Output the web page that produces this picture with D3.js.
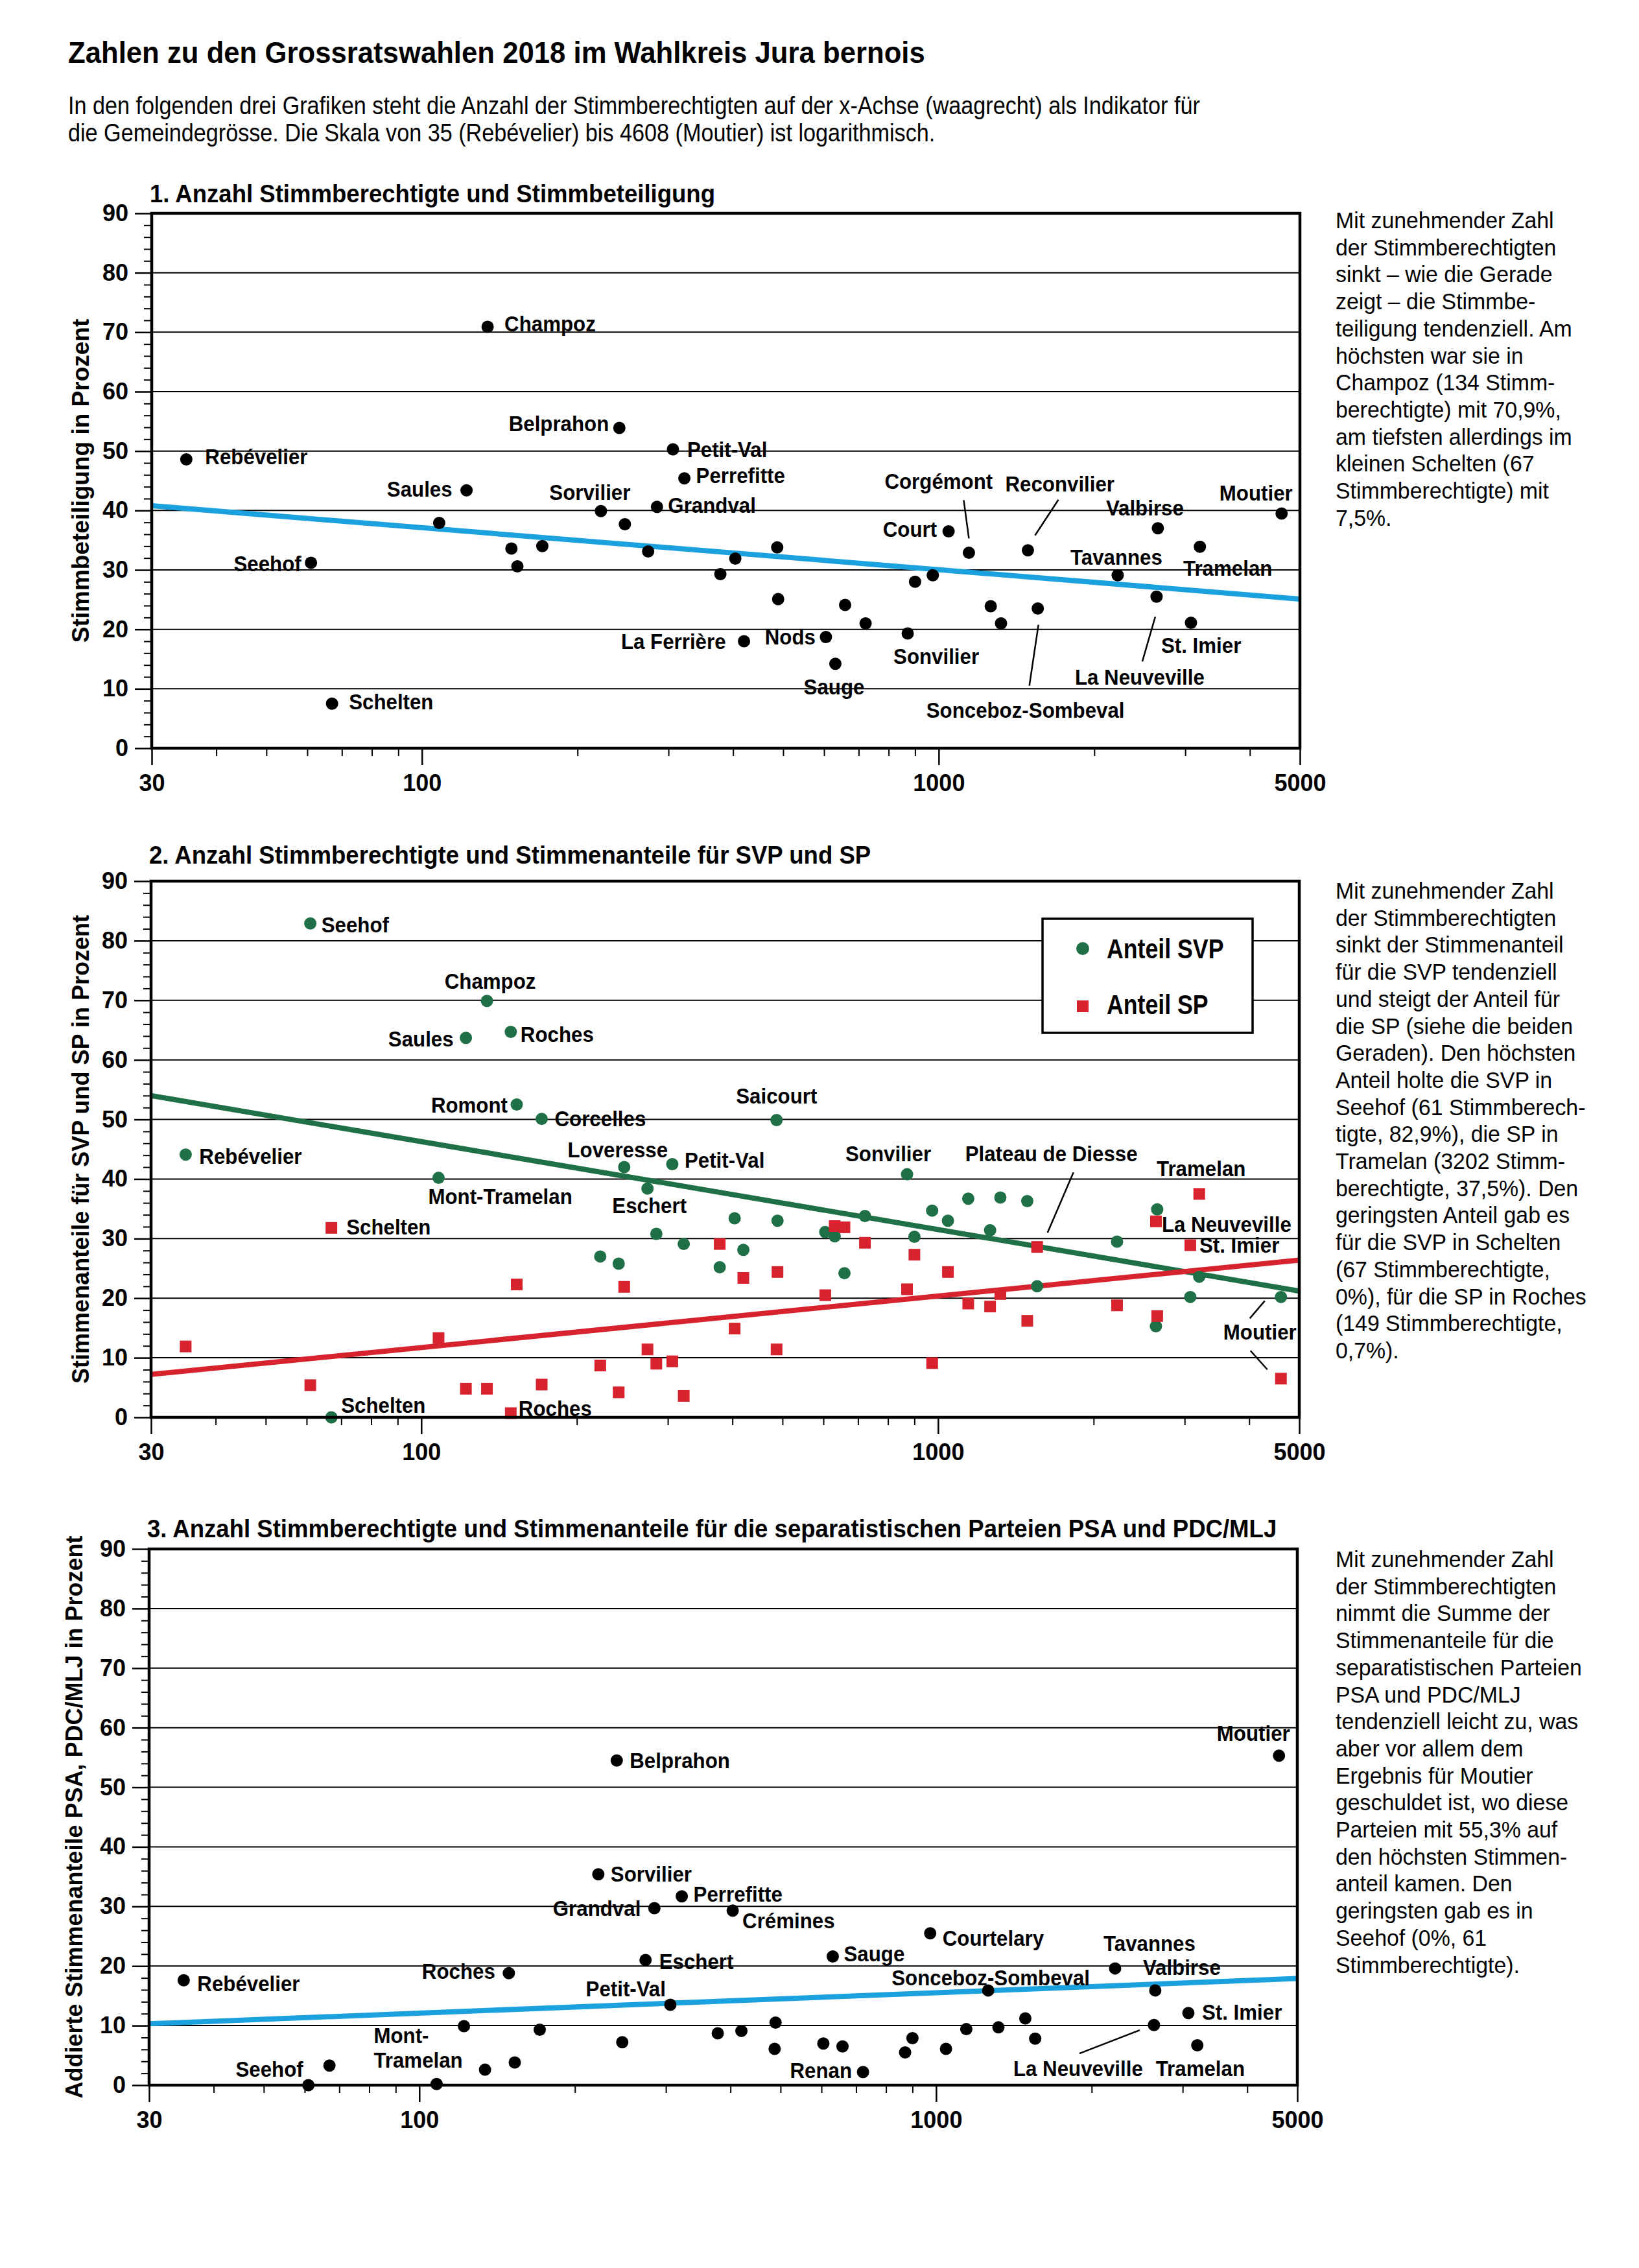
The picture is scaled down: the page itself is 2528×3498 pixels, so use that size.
<!DOCTYPE html>
<html>
<head>
<meta charset="utf-8">
<script src="https://d3js.org/d3.v7.min.js"></script>
<style>
  body { margin: 0; background: #fff; }
</style>
</head>
<body>
<svg id="chart" width="2528" height="3498"></svg>
<script>
// Gemeinden im Wahlkreis Jura bernois, sortiert nach Stimmberechtigten
const names = ["Rebévelier", "Seehof", "Schelten", "Mont-Tramelan", "Saules", "Champoz", "Roches", "Romont",
  "Corcelles", "Sorvilier", "Belprahon", "Loveresse", "Eschert", "Grandval", "Petit-Val", "Perrefitte",
  "Cormoret", "Crémines", "La Ferrière", "Saicourt", "Cortébert", "Nods", "Sauge", "Villeret", "Renan",
  "Sonvilier", "Orvin", "Courtelary", "Court", "Corgémont", "Sonceboz-Sombeval", "Péry-La Heutte",
  "Reconvilier", "Plateau de Diesse", "Tavannes", "La Neuveville", "Valbirse", "St. Imier", "Tramelan", "Moutier"];
const voters = [35, 61, 67, 108, 122, 134, 149, 153, 171, 222, 241, 247, 274, 285, 306, 322,
  378, 404, 420, 487, 489, 605, 631, 659, 722, 871, 900, 974, 1045, 1144, 1261, 1320,
  1488, 1555, 2220, 2640, 2655, 3077, 3202, 4608];
const turnout = [48.6, 31.2, 7.5, 37.9, 43.4, 70.9, 33.6, 30.6, 34.0, 39.9, 53.9, 37.7, 33.1, 40.6, 50.3, 45.4,
  29.3, 31.9, 18.0, 33.8, 25.1, 18.7, 14.2, 24.1, 21.0, 19.3, 28.0, 29.1, 36.5, 32.9, 23.9, 21.0,
  33.3, 23.5, 29.1, 25.5, 37.0, 21.1, 33.9, 39.5];
const svp = [44.1, 82.9, 0, 40.2, 63.7, 69.9, 64.7, 52.5, 50.1, 27.0, 25.8, 42.0, 38.4, 30.8, 42.5, 29.1,
  25.2, 33.4, 28.1, 49.9, 33.0, 31.1, 30.4, 24.2, 33.8, 40.8, 30.3, 34.7, 33.0, 36.7, 31.4, 36.9,
  36.3, 22.0, 29.5, 15.3, 34.9, 20.2, 23.6, 20.2];
const sp = [11.9, 5.4, 31.8, 13.3, 4.8, 4.8, 0.7, 22.3, 5.5, 8.7, 4.2, 21.9, 11.4, 9.0, 9.4, 3.6,
  29.1, 14.9, 23.4, 11.4, 24.4, 20.5, 32.1, 31.9, 29.3, 21.5, 27.3, 9.1, 24.4, 19.1, 18.6, 20.7,
  16.2, 28.6, 18.8, 32.9, 17.0, 28.9, 37.5, 6.5];
const separatist = [17.6, 0, 3.3, 0.2, 9.9, 2.6, 18.8, 3.8, 9.3, 35.4, 54.5, 7.2, 21.0, 29.7, 13.5, 31.7,
  8.7, 29.3, 9.1, 6.1, 10.5, 7.0, 21.6, 6.5, 2.2, 5.5, 7.9, 25.5, 6.1, 9.4, 15.9, 9.7,
  11.2, 7.8, 19.6, 10.1, 15.9, 12.1, 6.7, 55.3];

const trendX = [30, 5000];
const trendTurnout = [40.8, 25.1];
const trendSVP = [54.0, 21.2];
const trendSP = [7.2, 26.4];
const trendSep = [10.3, 17.9];

const xTicks = [30, 40, 50, 60, 70, 80, 90, 100, 200, 300, 400, 500, 600, 700, 800, 900, 1000, 2000, 3000, 4000, 5000];
const xTickLabels = [30, 100, 1000, 5000];
const yTicks = [0, 10, 20, 30, 40, 50, 60, 70, 80, 90];

const SANS = '"Liberation Sans", Arial, sans-serif';
const BLUE = "#1ba1de", GREEN = "#1f7047", RED = "#d6232d";

const svg = d3.select("#chart");
svg.append("rect").attr("width", 2528).attr("height", 3498).attr("fill", "#fff");

// schmal gesetzter Text (Ersatz fuer eine Condensed-Schrift)
function ctext(parent, x, y, txt, size, bold, sx, anchor) {
  return parent.append("text")
    .attr("transform", "translate(" + x + "," + y + ") scale(" + sx + ",1)")
    .attr("text-anchor", anchor || "start")
    .attr("font-family", SANS)
    .attr("font-weight", bold ? "bold" : "normal")
    .attr("font-size", size)
    .text(txt);
}

ctext(svg, 105, 97, "Zahlen zu den Grossratswahlen 2018 im Wahlkreis Jura bernois", 46, true, 0.95);

const intro = ["In den folgenden drei Grafiken steht die Anzahl der Stimmberechtigten auf der x-Achse (waagrecht) als Indikator für",
  "die Gemeindegrösse. Die Skala von 35 (Rebévelier) bis 4608 (Moutier) ist logarithmisch."];
intro.forEach((d, i) => ctext(svg, 105, 176 + i * 42, d, 38, false, 0.9));

// label: [Gemeinde, Text, dx, dy, anchor, leader?]
const panels = [
  {
    left: 234, right: 2005, top: 329, bottom: 1154, titleY: 312,
    title: "1. Anzahl Stimmberechtigte und Stimmbeteiligung",
    yTitle: "Stimmbeteiligung in Prozent", yTitleX: 137, yTitleSize: 37,
    noteY: 352,
    note: ["Mit zunehmender Zahl", "der Stimmberechtigten", "sinkt – wie die Gerade", "zeigt – die Stimmbe-",
      "teiligung tendenziell. Am", "höchsten war sie in", "Champoz (134 Stimm-", "berechtigte) mit 70,9%,",
      "am tiefsten allerdings im", "kleinen Schelten (67", "Stimmberechtigte) mit", "7,5%."],
    trends: [{ values: trendTurnout, color: BLUE }],
    series: [{
      values: turnout, shape: "circle", color: "#000",
      labels: [
        ["Champoz", "Champoz", 26, -5, "start"], ["Belprahon", "Belprahon", -16, -7, "end"],
        ["Petit-Val", "Petit-Val", 22, 0, "start"], ["Perrefitte", "Perrefitte", 18, -5, "start"],
        ["Rebévelier", "Rebévelier", 29, -5, "start"], ["Saules", "Saules", -22, -2, "end"],
        ["Sorvilier", "Sorvilier", -17, -29, "middle"], ["Grandval", "Grandval", 17, -3, "start"],
        ["Seehof", "Seehof", -15, 1, "end"], ["La Ferrière", "La Ferrière", -28, 0, "end"],
        ["Nods", "Nods", -16, -1, "end"], ["Sauge", "Sauge", -2, 35, "middle"],
        ["Schelten", "Schelten", 26, -3, "start"], ["Sonvilier", "Sonvilier", -22, 35, "start"],
        ["Court", "Court", -18, -3, "end"],
        ["Corgémont", "Corgémont", -130, -110, "start", [-8, -81, 0, -22]],
        ["Reconvilier", "Reconvilier", -35, -103, "start", [47, -78, 11, -23]],
        ["Valbirse", "Valbirse", -20, -32, "middle"], ["Moutier", "Moutier", 17, -32, "end"],
        ["Tavannes", "Tavannes", -2, -28, "middle"], ["Tramelan", "Tramelan", 43, 33, "middle"],
        ["St. Imier", "St. Imier", -46, 34, "start"],
        ["La Neuveville", "La Neuveville", -126, 124, "start", [-22, 100, -2, 31]],
        ["Plateau de Diesse", "Sonceboz-Sombeval", -172, 156, "start", [-13, 119, 1, 25]]
      ]
    }]
  },
  {
    left: 233, right: 2004, top: 1359, bottom: 2186, titleY: 1332,
    title: "2. Anzahl Stimmberechtigte und Stimmenanteile für SVP und SP",
    yTitle: "Stimmenanteile für SVP und SP in Prozent", yTitleX: 137, yTitleSize: 36,
    noteY: 1386,
    note: ["Mit zunehmender Zahl", "der Stimmberechtigten", "sinkt der Stimmenanteil", "für die SVP tendenziell",
      "und steigt der Anteil für", "die SP (siehe die beiden", "Geraden). Den höchsten", "Anteil holte die SVP in",
      "Seehof (61 Stimmberech-", "tigte, 82,9%), die SP in", "Tramelan (3202 Stimm-", "berechtigte, 37,5%). Den",
      "geringsten Anteil gab es", "für die SVP in Schelten", "(67 Stimmberechtigte,", "0%), für die SP in Roches",
      "(149 Stimmberechtigte,", "0,7%)."],
    trends: [{ values: trendSVP, color: GREEN }, { values: trendSP, color: RED }],
    legend: true,
    series: [{
      values: svp, shape: "circle", color: GREEN,
      labels: [
        ["Seehof", "Seehof", 17, 2, "start"], ["Champoz", "Champoz", 5, -31, "middle"],
        ["Saules", "Saules", -19, 1, "end"], ["Roches", "Roches", 15, 4, "start"],
        ["Romont", "Romont", -14, 0, "end"], ["Corcelles", "Corcelles", 20, -1, "start"],
        ["Saicourt", "Saicourt", 0, -37, "middle"], ["Rebévelier", "Rebévelier", 21, 2, "start"],
        ["Loveresse", "Loveresse", -10, -27, "middle"], ["Petit-Val", "Petit-Val", 19, -6, "start"],
        ["Mont-Tramelan", "Mont-Tramelan", -16, 28, "start"], ["Eschert", "Eschert", 3, 26, "middle"],
        ["Schelten", "Schelten", 15, -19, "start"], ["Sonvilier", "Sonvilier", -29, -32, "middle"],
        ["Moutier", "Moutier", 24, 54, "end", [-25, 6, -48, 33]]
      ]
    }, {
      values: sp, shape: "square", color: RED,
      labels: [
        ["Schelten", "Schelten", 23, -2, "start"], ["Roches", "Roches", 12, -8, "start"],
        ["Plateau de Diesse", "Plateau de Diesse", -111, -144, "start", [56, -115, 16, -22]],
        ["Tramelan", "Tramelan", 3, -39, "middle"], ["La Neuveville", "La Neuveville", 9, 4, "start"],
        ["St. Imier", "St. Imier", 14, 0, "start"],
        ["Moutier", "", 0, 0, "start", [-47, -43, -21, -14]]
      ]
    }]
  },
  {
    left: 230, right: 2001, top: 2389, bottom: 3216, titleY: 2371,
    title: "3. Anzahl Stimmberechtigte und Stimmenanteile für die separatistischen Parteien PSA und PDC/MLJ",
    yTitle: "Addierte Stimmenanteile PSA, PDC/MLJ in Prozent", yTitleX: 127, yTitleSize: 36,
    noteY: 2417,
    note: ["Mit zunehmender Zahl", "der Stimmberechtigten", "nimmt die Summe der", "Stimmenanteile für die",
      "separatistischen Parteien", "PSA und PDC/MLJ", "tendenziell leicht zu, was", "aber vor allem dem",
      "Ergebnis für Moutier", "geschuldet ist, wo diese", "Parteien mit 55,3% auf", "den höchsten Stimmen-",
      "anteil kamen. Den", "geringsten gab es in", "Seehof (0%, 61", "Stimmberechtigte)."],
    trends: [{ values: trendSep, color: BLUE }],
    series: [{
      values: separatist, shape: "circle", color: "#000",
      labels: [
        ["Belprahon", "Belprahon", 20, 0, "start"], ["Sorvilier", "Sorvilier", 19, -1, "start"],
        ["Perrefitte", "Perrefitte", 18, -4, "start"], ["Grandval", "Grandval", -21, 0, "end"],
        ["Crémines", "Crémines", 15, 15, "start"], ["Eschert", "Eschert", 21, 2, "start"],
        ["Roches", "Roches", -21, -3, "end"], ["Rebévelier", "Rebévelier", 21, 5, "start"],
        ["Petit-Val", "Petit-Val", -7, -25, "end"],
        ["Mont-Tramelan", "Mont-", -97, -75, "start"], ["Mont-Tramelan", "Tramelan", -97, -37, "start"],
        ["Seehof", "Seehof", -8, -25, "end"], ["Renan", "Renan", -17, -3, "end"],
        ["Moutier", "Moutier", 17, -35, "end"], ["Courtelary", "Courtelary", 19, 7, "start"],
        ["Sauge", "Sauge", 17, -5, "start"], ["Tavannes", "Tavannes", 53, -39, "middle"],
        ["Valbirse", "Valbirse", -19, -36, "start"],
        ["Sonceboz-Sombeval", "Sonceboz-Sombeval", 4, -20, "middle"],
        ["St. Imier", "St. Imier", 21, -2, "start"], ["Tramelan", "Tramelan", -64, 36, "start"],
        ["La Neuveville", "La Neuveville", -217, 67, "start", [-115, 44, -22, 8]]
      ]
    }]
  }
];

panels.forEach(drawPanel);

function drawPanel(p) {
  const x = d3.scaleLog().domain([30, 5000]).range([p.left, p.right]);
  const y = d3.scaleLinear().domain([0, 90]).range([p.bottom, p.top]);
  const g = svg.append("g");

  ctext(g, p.left - 3, p.titleY, p.title, 38.5, true, 0.95);

  // Gitterlinien
  g.append("g").selectAll("line").data(yTicks.slice(1, -1)).enter().append("line")
    .attr("x1", p.left).attr("x2", p.right)
    .attr("y1", d => y(d)).attr("y2", d => y(d))
    .attr("stroke", "#000").attr("stroke-width", 2);

  // y-Achse: grosse und kleine Striche
  const yAxis = d3.axisLeft(y).tickValues(yTicks).tickSize(26).tickPadding(10);
  const ya = g.append("g").attr("transform", "translate(" + p.left + ",0)").call(yAxis);
  ya.select(".domain").remove();
  ya.selectAll(".tick line").attr("stroke-width", 2.5);
  ya.selectAll(".tick text")
    .attr("font-family", SANS).attr("font-weight", "bold").attr("font-size", 36).attr("fill", "#000");
  const minorY = d3.range(2, 90, 2).filter(d => d % 10 !== 0);
  const yMinor = g.append("g").attr("transform", "translate(" + p.left + ",0)")
    .call(d3.axisLeft(y).tickValues(minorY).tickSize(12).tickFormat(""));
  yMinor.select(".domain").remove();
  yMinor.selectAll(".tick line").attr("stroke-width", 2);

  // x-Achse (logarithmisch)
  const xMinor = g.append("g").attr("transform", "translate(0," + p.bottom + ")")
    .call(d3.axisBottom(x).tickValues(xTicks.filter(d => !xTickLabels.includes(d))).tickSize(12).tickFormat(""));
  xMinor.select(".domain").remove();
  xMinor.selectAll(".tick line").attr("stroke-width", 2);
  const xa = g.append("g").attr("transform", "translate(0," + p.bottom + ")")
    .call(d3.axisBottom(x).tickValues(xTickLabels).tickSize(26).tickPadding(14).tickFormat(d3.format("d")));
  xa.select(".domain").remove();
  xa.selectAll(".tick line").attr("stroke-width", 2.5);
  xa.selectAll(".tick text")
    .attr("font-family", SANS).attr("font-weight", "bold").attr("font-size", 36).attr("fill", "#000");

  // y-Titel
  g.append("text")
    .attr("transform", "translate(" + p.yTitleX + "," + (p.top + p.bottom) / 2 + ") rotate(-90)")
    .attr("text-anchor", "middle")
    .attr("font-family", SANS).attr("font-weight", "bold").attr("font-size", p.yTitleSize)
    .text(p.yTitle);

  // Legende
  if (p.legend) {
    const lg = g.append("g").attr("transform", "translate(" + (p.left + 1375) + "," + (p.top + 58) + ")");
    lg.append("rect").attr("width", 324).attr("height", 176)
      .attr("fill", "#fff").attr("stroke", "#000").attr("stroke-width", 3.5);
    lg.append("circle").attr("cx", 62).attr("cy", 46).attr("r", 10).attr("fill", GREEN);
    lg.append("rect").attr("x", 53).attr("y", 126).attr("width", 18).attr("height", 18).attr("fill", RED);
    ctext(lg, 99, 61, "Anteil SVP", 42, true, 0.85);
    ctext(lg, 99, 147, "Anteil SP", 42, true, 0.85);
  }

  // Regressionsgeraden
  p.trends.forEach(t => {
    g.append("line")
      .attr("x1", x(trendX[0])).attr("y1", y(t.values[0]))
      .attr("x2", x(trendX[1])).attr("y2", y(t.values[1]))
      .attr("stroke", t.color).attr("stroke-width", 8);
  });

  // Punkte
  p.series.forEach(s => {
    if (s.shape === "circle") {
      g.append("g").selectAll("circle").data(voters).enter().append("circle")
        .attr("cx", d => x(d)).attr("cy", (d, i) => y(s.values[i]))
        .attr("r", 9.5).attr("fill", s.color);
    } else {
      g.append("g").selectAll("rect").data(voters).enter().append("rect")
        .attr("x", d => x(d) - 9).attr("y", (d, i) => y(s.values[i]) - 9)
        .attr("width", 18).attr("height", 18).attr("fill", s.color);
    }
  });

  // Rahmen
  g.append("rect")
    .attr("x", p.left).attr("y", p.top)
    .attr("width", p.right - p.left).attr("height", p.bottom - p.top)
    .attr("fill", "none").attr("stroke", "#000").attr("stroke-width", 4.5);

  // Beschriftungen
  p.series.forEach(s => {
    s.labels.forEach(l => {
      const i = names.indexOf(l[0]);
      const px = x(voters[i]), py = y(s.values[i]);
      if (l[5]) {
        g.append("line")
          .attr("x1", px + l[5][0]).attr("y1", py + l[5][1])
          .attr("x2", px + l[5][2]).attr("y2", py + l[5][3])
          .attr("stroke", "#000").attr("stroke-width", 2.5);
      }
      if (l[1]) ctext(g, px + l[2], py + l[3] + 12, l[1], 34, true, 0.92, l[4]);
    });
  });

  // Erläuterung rechts
  p.note.forEach((d, i) => ctext(g, 2060, p.noteY + i * 41.7, d, 36, false, 0.94));
}
</script>
</body>
</html>
